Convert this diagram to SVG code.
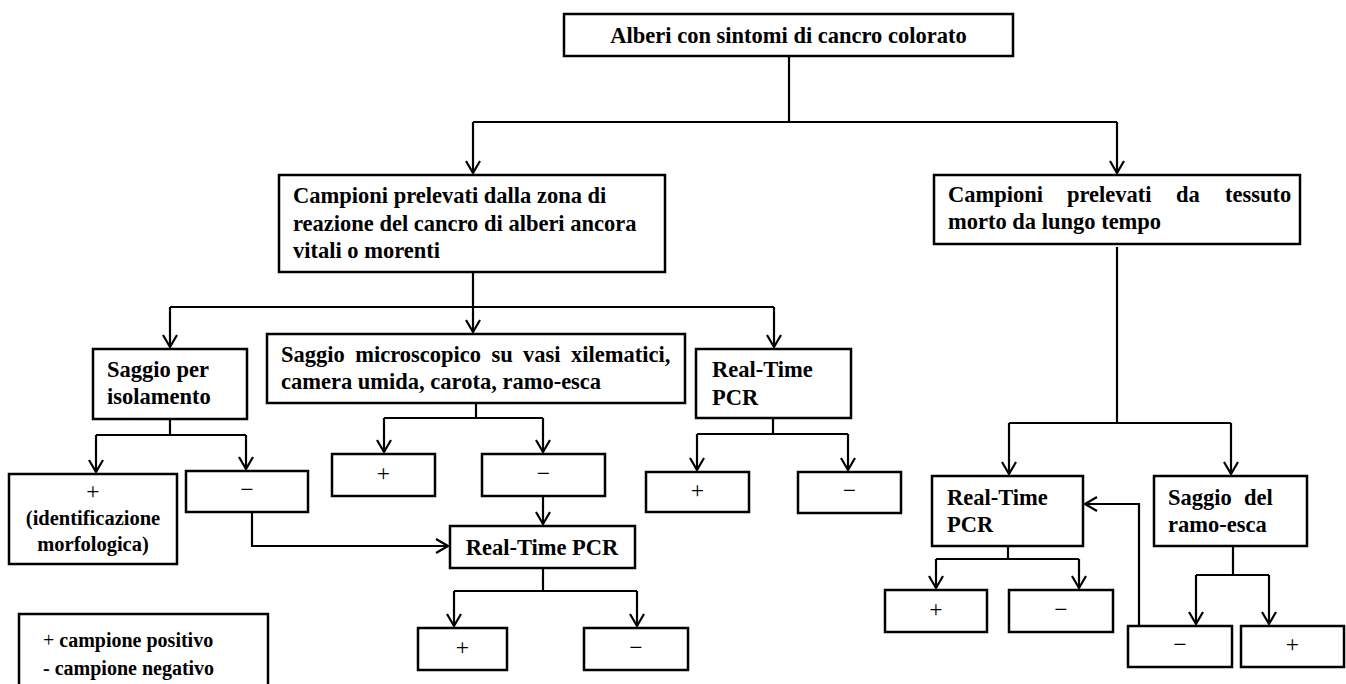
<svg xmlns="http://www.w3.org/2000/svg" width="1346" height="684" viewBox="0 0 1346 684">
<style>
.box{fill:#fff;stroke:#000;stroke-width:2.5}
.c{fill:none;stroke:#000;stroke-width:2.2}
.a{fill:none;stroke:#000;stroke-width:2.2;marker-end:url(#ah)}
.t{font-family:"Liberation Serif","Times New Roman",serif;font-weight:bold;font-size:22.5px;fill:#000}
.m{text-anchor:middle}
.s{font-family:"Liberation Serif","Times New Roman",serif;font-size:23.5px;fill:#000;text-anchor:middle}
.sm{font-family:"Liberation Serif","Times New Roman",serif;font-weight:bold;font-size:20.5px;fill:#000;text-anchor:middle}
.lg{font-family:"Liberation Serif","Times New Roman",serif;font-weight:bold;font-size:20px;fill:#000}
</style>
<defs>
<marker id="ah" viewBox="-16 -10 20 20" refX="0" refY="0" markerWidth="20" markerHeight="20" markerUnits="userSpaceOnUse" orient="auto">
<path d="M-12,-7 L0,0 L-12,7" fill="none" stroke="#000" stroke-width="2.2" stroke-linejoin="round"/>
</marker>
</defs>
<rect width="1346" height="684" fill="#fff"/>
<g id="connectors">
<path class="c" d="M789,56 V122 M473,122 H1117"/>
<path class="a" d="M473,122 V173"/>
<path class="a" d="M1117,122 V173"/>
<path class="c" d="M473,272 V307 M170,307 H774"/>
<path class="a" d="M170,307 V347"/>
<path class="a" d="M473,307 V332"/>
<path class="a" d="M774,307 V347"/>
<path class="c" d="M170,419 V435 M96,435 H246"/>
<path class="a" d="M96,435 V472"/>
<path class="a" d="M246,435 V469"/>
<path class="c" d="M476,403 V418 M384,418 H543"/>
<path class="a" d="M384,418 V452"/>
<path class="a" d="M543,418 V452"/>
<path class="a" d="M543,496 V524"/>
<path class="a" d="M252,512 V546 H448"/>
<path class="c" d="M543,568 V591 M454,591 H637"/>
<path class="a" d="M454,591 V626"/>
<path class="a" d="M637,591 V626"/>
<path class="c" d="M773,418 V434 M697,434 H848"/>
<path class="a" d="M697,434 V470"/>
<path class="a" d="M848,434 V470"/>
<path class="c" d="M1117,247 V423 M1009,423 H1231"/>
<path class="a" d="M1009,423 V474"/>
<path class="a" d="M1231,423 V474"/>
<path class="c" d="M1008,546 V559 M936,559 H1079"/>
<path class="a" d="M936,559 V588"/>
<path class="a" d="M1079,559 V588"/>
<path class="c" d="M1233,546 V575 M1196,575 H1269"/>
<path class="a" d="M1196,575 V624"/>
<path class="a" d="M1269,575 V624"/>
<path class="a" d="M1139,626 V504 H1085"/>
</g>
<g id="n_root"><rect class="box" x="564" y="14" width="449" height="42"/><text class="t m" x="788.5" y="43">Alberi con sintomi di cancro colorato</text></g>
<g id="n_left"><rect class="box" x="279" y="175" width="386" height="97"/>
<text class="t" x="293" y="203">Campioni prelevati dalla zona di</text>
<text class="t" x="293" y="231">reazione del cancro di alberi ancora</text>
<text class="t" x="293" y="258">vitali o morenti</text></g>
<g id="n_right"><rect class="box" x="934" y="175" width="366" height="69"/>
<text class="t" y="202"><tspan x="948">Campioni</tspan><tspan x="1067">prelevati</tspan><tspan x="1176">da</tspan><tspan x="1225">tessuto</tspan></text>
<text class="t" x="948" y="229">morto da lungo tempo</text></g>
<g id="n_iso"><rect class="box" x="93" y="349" width="154" height="70"/>
<text class="t" x="107" y="377">Saggio per</text><text class="t" x="107" y="404">isolamento</text></g>
<g id="n_micro"><rect class="box" x="267" y="334" width="418" height="69"/>
<text class="t" x="281" y="362" word-spacing="4.8">Saggio microscopico su vasi xilematici,</text>
<text class="t" x="281" y="389">camera umida, carota, ramo-esca</text></g>
<g id="n_pcr1"><rect class="box" x="696" y="349" width="155" height="69"/>
<text class="t" x="712" y="377">Real-Time</text><text class="t" x="712" y="405">PCR</text></g>
<g id="n_iso_pos"><rect class="box" x="9" y="474" width="168" height="90"/>
<text class="s" x="93" y="499" font-size="21">+</text>
<text class="sm" x="93" y="525">(identificazione</text>
<text class="sm" x="93" y="551">morfologica)</text></g>
<g id="n_iso_neg"><rect class="box" x="186" y="471" width="122" height="41"/><text class="s" x="247" y="497">−</text></g>
<g id="n_micro_pos"><rect class="box" x="332" y="454" width="103" height="42"/><text class="s" x="383.5" y="481">+</text></g>
<g id="n_micro_neg"><rect class="box" x="482" y="454" width="123" height="42"/><text class="s" x="543.5" y="481">−</text></g>
<g id="n_pcr2"><rect class="box" x="450" y="526" width="185" height="42"/><text class="t m" x="542" y="555">Real-Time PCR</text></g>
<g id="n_pcr2_pos"><rect class="box" x="418" y="628" width="89" height="42"/><text class="s" x="462.5" y="655">+</text></g>
<g id="n_pcr2_neg"><rect class="box" x="584" y="628" width="104" height="42"/><text class="s" x="636" y="655">−</text></g>
<g id="n_pcr1_pos"><rect class="box" x="646" y="472" width="103" height="40"/><text class="s" x="697.5" y="498">+</text></g>
<g id="n_pcr1_neg"><rect class="box" x="798" y="472" width="103" height="41"/><text class="s" x="849.5" y="498">−</text></g>
<g id="n_pcr3"><rect class="box" x="932" y="476" width="151" height="70"/>
<text class="t" x="947" y="505">Real-Time</text><text class="t" x="947" y="532">PCR</text></g>
<g id="n_ramo"><rect class="box" x="1154" y="476" width="153" height="70"/>
<text class="t" y="505"><tspan x="1168">Saggio</tspan><tspan x="1244">del</tspan></text>
<text class="t" x="1168" y="532">ramo-esca</text></g>
<g id="n_pcr3_pos"><rect class="box" x="885" y="590" width="102" height="42"/><text class="s" x="936" y="617">+</text></g>
<g id="n_pcr3_neg"><rect class="box" x="1009" y="590" width="104" height="42"/><text class="s" x="1061" y="617">−</text></g>
<g id="n_ramo_neg"><rect class="box" x="1128" y="626" width="104" height="41"/><text class="s" x="1180" y="652">−</text></g>
<g id="n_ramo_pos"><rect class="box" x="1241" y="626" width="103" height="41"/><text class="s" x="1292.5" y="652">+</text></g>
<g id="legend"><rect class="box" x="19" y="614" width="249" height="80"/>
<text class="lg" x="43" y="647"><tspan font-weight="normal">+</tspan> campione positivo</text>
<text class="lg" x="43" y="675">- campione negativo</text></g>
</svg>
